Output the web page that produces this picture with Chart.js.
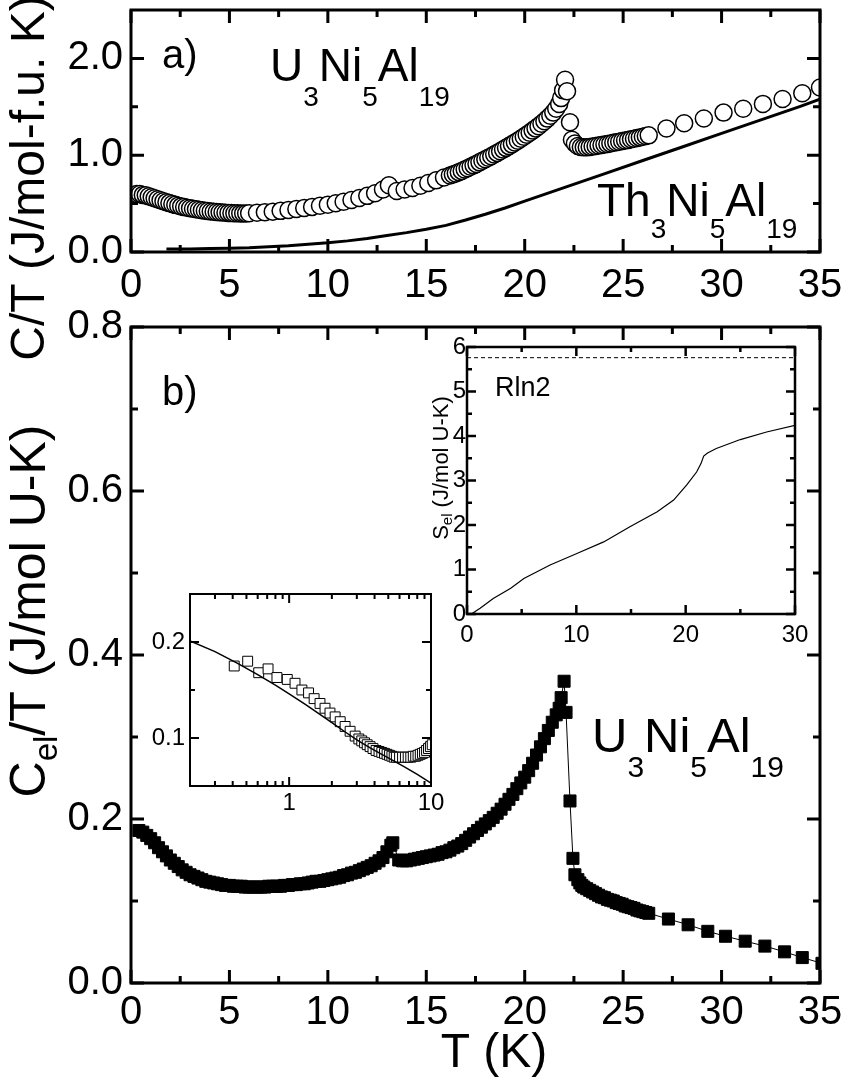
<!DOCTYPE html>
<html><head><meta charset="utf-8">
<script src="https://cdn.jsdelivr.net/npm/chart.js@4.4.1/dist/chart.umd.min.js"></script>
<style>
html,body{margin:0;padding:0;background:#fff;}
#wrap{position:relative;width:843px;height:1080px;overflow:hidden;background:#fff;}
canvas{position:absolute;left:0;top:0;}
</style></head><body><div id="wrap">
<canvas id="ca" width="843" height="1080"></canvas>
<canvas id="cb" width="843" height="1080"></canvas>
<canvas id="cs" width="843" height="1080"></canvas>
<canvas id="cl" width="843" height="1080"></canvas>
</div>
<script>
// ---------- Panel a: C/T of U3Ni5Al19 (open circles) ----------
const aT = [0.3,0.45,0.6,0.75,0.9,1.05,1.2,1.35,1.5,1.65,1.8,1.95,2.1,2.25,2.4,2.55,2.7,2.85,3.0,3.15,3.3,3.45,3.6,3.75,3.9,4.05,4.2,4.35,4.5,4.65,4.8,4.95,5.1,5.25,5.4,5.55,5.7,5.85,6.0,
  6.4,6.8,7.2,7.6,8.0,8.4,8.8,9.2,9.6,10.0,10.4,10.8,11.2,11.6,12.0,12.4,12.8,13.1,
  13.5,13.9,14.3,14.7,15.1,15.5,15.9,16.2,
  16.35,16.5,16.65,16.8,16.95,17.1,17.25,17.4,17.55,17.7,17.85,18.0,18.15,18.3,18.45,18.6,18.75,18.9,19.05,19.2,19.35,19.5,19.65,19.8,19.95,20.1,20.25,20.4,20.55,20.7,20.85,21.0,21.15,21.3,21.45,21.6,21.75,
  21.85,21.95,22.05,22.15,22.3,22.4,
  22.55,22.7,22.85,23.0,23.15,23.3,23.45,23.6,23.75,23.9,24.05,24.2,24.35,24.5,24.65,24.8,24.95,25.1,25.25,25.4,25.55,25.7,25.85,26.0,26.15,26.3,
  27.2,28.1,29.1,30.1,31.1,32.1,33.1,34.1,35.0];
const aCT = [0.60,0.60,0.59,0.585,0.575,0.565,0.555,0.545,0.535,0.525,0.515,0.505,0.495,0.487,0.479,0.471,0.464,0.458,0.452,0.446,0.441,0.436,0.431,0.427,0.423,0.419,0.416,0.413,0.41,0.408,0.406,0.404,0.402,0.401,0.4,0.399,0.399,0.399,0.4,
  0.405,0.41,0.417,0.425,0.434,0.444,0.455,0.466,0.477,0.489,0.503,0.519,0.537,0.557,0.58,0.607,0.645,0.69,
  0.63,0.645,0.662,0.685,0.712,0.74,0.77,0.79,
  0.800,0.812,0.825,0.838,0.852,0.866,0.88,0.895,0.91,0.926,0.942,0.958,0.974,0.99,1.007,1.024,1.041,1.058,1.076,1.094,1.112,1.131,1.15,1.17,1.19,1.211,1.232,1.254,1.277,1.30,1.325,1.35,1.378,1.407,1.44,1.48,1.53,
  1.59,1.67,1.78,1.66,1.34,1.16,
  1.12,1.095,1.085,1.082,1.083,1.086,1.09,1.095,1.1,1.105,1.11,1.116,1.122,1.128,1.134,1.14,1.146,1.152,1.158,1.164,1.17,1.177,1.184,1.191,1.198,1.205,
  1.275,1.33,1.38,1.44,1.48,1.53,1.58,1.64,1.70];
// Th3Ni5Al19 reference (solid line)
const thT  = [1.8,3,4,5,6,7,8,9,10,11,12,13,14,15,16,17,18,19,20,22,24,26,28,30,32,34,35];
const thCT = [0.03,0.03,0.035,0.04,0.045,0.055,0.065,0.08,0.095,0.115,0.14,0.17,0.2,0.235,0.275,0.33,0.39,0.455,0.525,0.665,0.805,0.945,1.085,1.225,1.365,1.505,1.58];

// ---------- Panel b: Cel/T (filled squares) ----------
const bT = [0.4,0.6,0.8,1.0,1.2,1.4,1.6,1.8,2.0,2.2,2.4,2.6,2.8,3.0,3.2,3.4,3.6,3.8,4.0,4.2,4.4,4.6,4.8,5.0,5.2,5.4,5.6,5.8,6.0,6.2,
  6.4,6.6,6.8,7.0,7.2,7.4,7.6,7.8,8.0,8.2,8.4,8.6,8.8,9.0,9.2,9.4,9.6,9.8,10.0,10.2,10.4,10.6,10.8,11.0,11.2,11.4,11.6,11.8,12.0,12.2,
  12.4,12.6,12.8,13.0,13.2,13.3,
  13.6,13.8,14.0,14.2,14.4,14.6,14.8,15.0,15.2,15.4,15.6,15.8,16.0,16.2,16.4,16.6,16.8,17.0,17.2,17.4,17.6,17.8,18.0,18.2,18.4,18.6,18.8,19.0,19.2,19.4,19.6,19.8,20.0,20.2,20.4,20.6,20.8,21.0,21.2,21.4,21.6,
  21.75,21.85,22.0,22.1,22.3,22.45,22.55,
  22.7,22.8,22.9,23.0,23.15,23.3,23.45,23.6,23.75,23.9,24.05,24.2,24.35,24.5,24.65,24.8,24.95,25.1,25.25,25.4,25.55,25.7,25.85,26.0,26.15,26.3,
  27.3,28.3,29.3,30.2,31.2,32.2,33.2,34.1,35.1];
const bCT = [0.186,0.184,0.180,0.176,0.171,0.165,0.160,0.155,0.150,0.146,0.142,0.138,0.135,0.132,0.130,0.128,0.126,0.124,0.123,0.122,
  0.121,0.120,0.119,0.119,0.118,0.118,0.118,0.117,0.117,0.117,0.117,0.117,0.117,0.118,0.118,0.118,0.118,0.119,0.119,0.120,
  0.120,0.121,0.121,0.122,0.123,0.124,0.124,0.125,0.126,0.127,0.128,0.129,0.131,0.132,0.134,0.135,0.137,0.139,0.141,0.143,
  0.146,0.149,0.153,0.160,0.168,0.171,
  0.150,0.149,0.149,0.150,0.151,0.152,0.153,0.154,0.155,0.156,0.157,0.159,0.160,0.162,0.165,0.167,0.170,0.174,0.178,0.182,
  0.186,0.190,0.194,0.198,0.202,0.207,0.212,0.218,0.224,0.230,0.237,0.244,0.251,0.259,0.268,0.278,0.288,0.298,0.308,0.318,0.327,
  0.335,0.348,0.368,0.330,0.222,0.152,0.132,
  0.126,0.122,0.119,0.117,0.115,0.113,0.111,0.109,0.107,0.105,0.104,0.102,0.101,0.100,0.098,0.097,0.096,0.094,0.093,0.092,0.091,0.089,0.088,0.087,0.086,0.085,
  0.078,0.071,0.063,0.057,0.051,0.045,0.038,0.031,0.024];

// ---------- Inset: entropy S_el ----------
const sT = [0.4,1.2,2.4,4.0,5.2,7.6,10.05,12.5,14.9,17.4,18.9,20.1,21.0,21.4,21.65,22.0,22.8,25.0,27.4,30.0];
const sS = [0,0.13,0.35,0.58,0.8,1.1,1.36,1.62,1.96,2.3,2.56,2.9,3.19,3.38,3.55,3.62,3.72,3.92,4.09,4.24];
const rln2 = 5.76;

// ---------- Inset: low-T log plot ----------
const lT = [0.41,0.51,0.61,0.71,0.82,0.97,1.10,1.23,1.37,1.50,1.65,1.79,1.94,2.11,2.29,2.48,2.69,2.92,3.1,3.25,3.4,3.55,3.72,3.9,4.1,4.3,4.5,4.7,4.9,5.1,5.3,5.5,5.7,6.0,6.3,6.6,6.9,7.2,7.5,7.8,8.1,8.4,8.7,9.0,9.3,9.6,9.9,10.2];
const lC = [0.175,0.180,0.168,0.172,0.163,0.161,0.157,0.150,0.147,0.141,0.136,0.131,0.126,0.122,0.117,0.112,0.107,0.102,0.099,0.097,0.095,0.093,0.091,0.089,0.087,0.086,0.085,0.084,0.083,0.082,0.081,0.080,0.080,0.080,0.080,0.080,0.080,0.080,0.081,0.081,0.082,0.083,0.084,0.085,0.087,0.089,0.091,0.093];
const fitT = [0.2,0.3,0.43,0.6,0.8,1.0,1.3,1.6,2.0,2.5,3.0,3.7,4.5,5.5,6.5,8.0,10.0];
const fitC = [0.201,0.19,0.178,0.166,0.155,0.146,0.135,0.126,0.116,0.106,0.098,0.09,0.083,0.076,0.07,0.062,0.053];

// ---------- tick values ----------
const mainXMajor = [0,5,10,15,20,25,30,35];
const mainXMinor = [2.5,7.5,12.5,17.5,22.5,27.5,32.5];
const aYMajor = [0,1,2];
const aYMinor = [0.5,1.5];
const bYMajor = [0,0.2,0.4,0.6,0.8];
const bYMinor = [0.1,0.3,0.5,0.7];
const sXMajor = [0,10,20,30];
const sXMinor = [5,15,25];
const sYMajor = [0,1,2,3,4,5,6];
const sYMinor = [0.5,1.5,2.5,3.5,4.5,5.5];
const lXMajor = [1,10];
const lXMinor = [0.3,0.4,0.5,0.6,0.7,0.8,0.9,2,3,4,5,6,7,8,9];
const lYMajor = [0.1,0.2];
const lYMinor = [0.15];

const FONT = "'Liberation Sans', Arial, Helvetica, sans-serif";
Chart.defaults.font.family = FONT;
Chart.defaults.color = '#000';

const pts = (xs, ys) => xs.map((x, i) => ({x: x, y: ys[i]}));

const framePlugin = {
  id: 'frame',
  afterDraw(chart, args, o) {
    const ctx = chart.ctx, a = chart.chartArea, xs = chart.scales.x, ys = chart.scales.y;
    ctx.save();
    ctx.strokeStyle = '#000';
    ctx.lineWidth = o.lw;
    ctx.beginPath();
    const xt = (vals, len) => vals.forEach(v => {
      const p = xs.getPixelForValue(v);
      ctx.moveTo(p, a.bottom); ctx.lineTo(p, a.bottom - len);
      ctx.moveTo(p, a.top); ctx.lineTo(p, a.top + len);
    });
    const yt = (vals, len) => vals.forEach(v => {
      const p = ys.getPixelForValue(v);
      ctx.moveTo(a.left, p); ctx.lineTo(a.left + len, p);
      ctx.moveTo(a.right, p); ctx.lineTo(a.right - len, p);
    });
    xt(o.xMajor, o.major); xt(o.xMinor, o.minor);
    yt(o.yMajor, o.major); yt(o.yMinor, o.minor);
    ctx.stroke();
    ctx.strokeRect(a.left, a.top, a.right - a.left, a.bottom - a.top);
    ctx.restore();
  }
};

function drawRich(ctx, it) {
  ctx.save();
  ctx.fillStyle = '#000';
  ctx.textBaseline = 'alphabetic';
  ctx.textAlign = 'left';
  const mf = it.size + 'px ' + FONT, sf = it.sub + 'px ' + FONT;
  let w = 0;
  it.parts.forEach(p => { ctx.font = p[1] ? sf : mf; w += ctx.measureText(p[0]).width; });
  ctx.translate(it.x, it.y);
  if (it.rot) ctx.rotate(-Math.PI / 2);
  let x = it.center ? -w / 2 : 0;
  it.parts.forEach(p => {
    ctx.font = p[1] ? sf : mf;
    ctx.fillText(p[0], x, p[1] ? it.dy : 0);
    x += ctx.measureText(p[0]).width;
  });
  ctx.restore();
}
const textPlugin = {
  id: 'texts',
  afterDraw(chart, args, o) { (o.items || []).forEach(it => drawRich(chart.ctx, it)); }
};

function fixedAxis(opts, size, isX) {
  return Object.assign({
    grid: {display: false, drawTicks: false},
    border: {display: false},
    afterFit(s) {
      if (isX) s.height = size; else s.width = size;
      s.paddingLeft = 0; s.paddingRight = 0; s.paddingTop = 0; s.paddingBottom = 0;
    }
  }, opts);
}

function makeChart(id, g, xOpt, yOpt, datasets, frame, items, yW, xH) {
  return new Chart(document.getElementById(id), {
    type: 'scatter',
    data: {datasets: datasets},
    options: {
      responsive: false, animation: false, devicePixelRatio: 1, events: [],
      layout: {padding: {left: g.L - yW, right: 843 - g.R, top: g.T, bottom: 1080 - g.B - xH}},
      plugins: {legend: {display: false}, tooltip: {enabled: false}, frame: frame, texts: {items: items}},
      scales: {x: fixedAxis(xOpt, xH, true), y: fixedAxis(yOpt, yW, false)}
    },
    plugins: [framePlugin, textPlugin]
  });
}

const setTicks = vals => (s => { s.ticks = vals.map(v => ({value: v})); });
const FORMULA = [['U',0],['3',1],['Ni',0],['5',1],['Al',0],['19',1]];

// ---------------- Panel a ----------------
makeChart('ca', {L: 131, R: 820, T: 9, B: 252},
  {type: 'linear', min: 0, max: 35, afterBuildTicks: setTicks(mainXMajor),
   ticks: {font: {size: 40}, padding: 10, maxRotation: 0, autoSkip: false, callback: v => String(v)}},
  {type: 'linear', min: 0, max: 2.5, afterBuildTicks: setTicks(aYMajor),
   ticks: {font: {size: 40}, padding: 8, autoSkip: false, callback: v => Number(v).toFixed(1)}},
  [
    {data: pts(thT, thCT), showLine: true, borderColor: '#000', borderWidth: 3, pointRadius: 0, clip: 0},
    {data: pts(aT, aCT), showLine: false, pointStyle: 'circle', pointRadius: 8.5, pointBorderWidth: 1.5,
     pointBorderColor: '#000', pointBackgroundColor: '#fff', clip: 0}
  ],
  {lw: 3, major: 13, minor: 7, xMajor: mainXMajor, xMinor: mainXMinor, yMajor: aYMajor, yMinor: aYMinor},
  [
    {parts: [['a)',0]], x: 162, y: 68, size: 40},
    {parts: FORMULA, x: 270, y: 81, size: 46, sub: 28, dy: 25},
    {parts: [['Th',0],['3',1],['Ni',0],['5',1],['Al',0],['19',1]], x: 597, y: 216, size: 46, sub: 28, dy: 22},
    {parts: [['C/T (J/mol-f.u. K)',0]], x: 44, y: 178, size: 48, rot: true, center: true}
  ], 90, 80);

// ---------------- Panel b ----------------
makeChart('cb', {L: 131, R: 820, T: 327, B: 983},
  {type: 'linear', min: 0, max: 35, afterBuildTicks: setTicks(mainXMajor),
   ticks: {font: {size: 40}, padding: 6, maxRotation: 0, autoSkip: false, callback: v => String(v)}},
  {type: 'linear', min: 0, max: 0.8, afterBuildTicks: setTicks(bYMajor),
   ticks: {font: {size: 40}, padding: 8, autoSkip: false, callback: v => Number(v).toFixed(1)}},
  [
    {data: pts(bT, bCT), showLine: true, borderColor: '#000', borderWidth: 1, pointStyle: 'rect',
     pointRadius: 8.5, pointBorderWidth: 1, pointBorderColor: '#000', pointBackgroundColor: '#000', clip: 0}
  ],
  {lw: 3, major: 13, minor: 7, xMajor: mainXMajor, xMinor: mainXMinor, yMajor: bYMajor, yMinor: bYMinor},
  [
    {parts: [['b)',0]], x: 162, y: 405, size: 40},
    {parts: FORMULA, x: 592, y: 752, size: 49, sub: 30, dy: 25},
    {parts: [['C',0],['el',1],['/T (J/mol U-K)',0]], x: 45, y: 611, size: 50, sub: 33, dy: 12, rot: true, center: true},
    {parts: [['T (K)',0]], x: 494, y: 1067, size: 48, center: true}
  ], 90, 70);

// ---------------- Inset: S_el ----------------
makeChart('cs', {L: 467, R: 795, T: 347, B: 614},
  {type: 'linear', min: 0, max: 30, afterBuildTicks: setTicks(sXMajor),
   ticks: {font: {size: 24}, padding: 7, maxRotation: 0, autoSkip: false, callback: v => String(v)}},
  {type: 'linear', min: 0, max: 6, afterBuildTicks: setTicks(sYMajor),
   ticks: {font: {size: 24}, padding: 1, autoSkip: false, callback: v => String(v)}},
  [
    {data: pts(sT, sS), showLine: true, borderColor: '#000', borderWidth: 1.2, pointRadius: 0, clip: 0},
    {data: [{x: 0, y: rln2}, {x: 30, y: rln2}], showLine: true, borderColor: '#000', borderWidth: 1,
     borderDash: [4, 3], pointRadius: 0, clip: 0}
  ],
  {lw: 2.5, major: 9, minor: 5, xMajor: sXMajor, xMinor: sXMinor, yMajor: sYMajor, yMinor: sYMinor},
  [
    {parts: [['Rln2',0]], x: 495, y: 396, size: 27},
    {parts: [['S',0],['el',1],[' (J/mol U-K)',0]], x: 448, y: 468, size: 22, sub: 15, dy: 4, rot: true, center: true}
  ], 40, 50);

// ---------------- Inset: log T ----------------
makeChart('cl', {L: 190, R: 431, T: 594, B: 786},
  {type: 'logarithmic', min: 0.2, max: 10, afterBuildTicks: setTicks(lXMajor),
   ticks: {font: {size: 24}, padding: 3, maxRotation: 0, autoSkip: false, callback: v => String(v)}},
  {type: 'linear', min: 0.05, max: 0.25, afterBuildTicks: setTicks(lYMajor),
   ticks: {font: {size: 24}, padding: 5, autoSkip: false, callback: v => Number(v).toFixed(1)}},
  [
    {data: pts(fitT, fitC), showLine: true, borderColor: '#000', borderWidth: 1.5, pointRadius: 0, clip: 0},
    {data: pts(lT, lC), showLine: false, pointStyle: 'rect', pointRadius: 7, pointBorderWidth: 1,
     pointBorderColor: '#000', pointBackgroundColor: '#fff', clip: 0}
  ],
  {lw: 2, major: 9, minor: 5, xMajor: lXMajor, xMinor: lXMinor, yMajor: lYMajor, yMinor: lYMinor},
  [], 60, 45);
</script>
</body></html>
